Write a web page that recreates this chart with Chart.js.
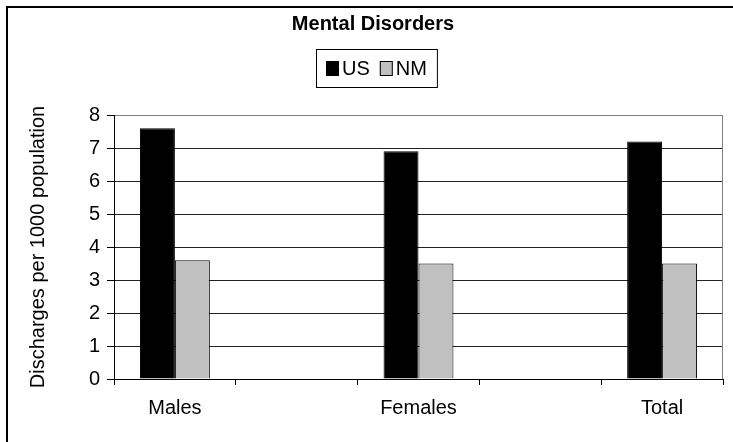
<!DOCTYPE html>
<html>
<head>
<meta charset="utf-8">
<script src="https://cdn.jsdelivr.net/npm/chart.js@4/dist/chart.umd.min.js"></script>
<style>
  body { margin: 0; background: #fff; }
  canvas { display: block; }
</style>
</head>
<body>
<canvas id="chart" width="733" height="442"></canvas>
<script>
// data (blank categories are the gaps between groups)
const categories = ['Males', '', 'Females', '', 'Total'];
const usValues = [7.6, null, 6.9, null, 7.2];
const nmValues = [3.6, null, 3.5, null, 3.5];
const yTicks = [0, 1, 2, 3, 4, 5, 6, 7, 8];

const FONT = 'Arial, "Liberation Sans", sans-serif';

// frame, boxed legend, grey plot border
const decor = {
  id: 'decor',
  beforeDraw(chart) {
    const c = chart.ctx;
    c.save();
    c.fillStyle = '#fff';
    c.fillRect(0, 0, chart.width, chart.height);
    c.strokeStyle = '#000';
    c.lineWidth = 2;
    c.beginPath();
    c.moveTo(7, chart.height);
    c.lineTo(7, 7);
    c.lineTo(chart.width, 7);
    c.stroke();
    c.restore();
  },
  afterDraw(chart) {
    const c = chart.ctx;
    const a = chart.chartArea;
    c.save();
    // right edge of plot area
    c.strokeStyle = '#808080';
    c.lineWidth = 1;
    c.beginPath();
    c.moveTo(a.right - 0.5, a.top);
    c.lineTo(a.right - 0.5, a.bottom);
    c.stroke();

    // legend
    c.font = '20px ' + FONT;
    c.textBaseline = 'middle';
    const sets = chart.data.datasets;
    const items = sets.map(d => ({ d, w: c.measureText(d.label).width }));
    const sq = 13, gap = 3, sep = 10, pad = 10;
    let total = pad * 2;
    items.forEach((it, i) => { total += sq + gap + it.w + (i ? sep : 0); });
    const boxTop = 49, boxH = 38;
    const boxLeft = Math.round(chart.width / 2 + 10 - total / 2);
    const cy = boxTop + boxH / 2;
    c.strokeStyle = '#000';
    c.strokeRect(boxLeft + 0.5, boxTop + 0.5, total, boxH);
    let x = boxLeft + pad;
    items.forEach((it, i) => {
      if (i) x += sep;
      c.fillStyle = it.d.backgroundColor;
      c.fillRect(x, cy - 7, sq, 15);
      c.strokeStyle = '#000';
      c.strokeRect(x + 0.5, cy - 6.5, sq - 1, 14);
      x += sq + gap;
      c.fillStyle = '#000';
      c.fillText(it.d.label, x, cy + 1);
      x += it.w;
    });
    c.restore();
  }
};

new Chart(document.getElementById('chart'), {
  type: 'bar',
  data: {
    labels: categories,
    datasets: [
      { label: 'US', data: usValues, backgroundColor: '#000000', borderColor: '#000000', borderWidth: 1 },
      { label: 'NM', data: nmValues, backgroundColor: '#C0C0C0', borderColor: '#000000', borderWidth: 1 }
    ]
  },
  options: {
    responsive: false,
    devicePixelRatio: 1,
    animation: false,
    categoryPercentage: 0.574,
    barPercentage: 1,
    layout: { padding: { left: 23, right: 10, top: 0, bottom: 11 } },
    plugins: {
      legend: { display: false },
      tooltip: { enabled: false },
      title: {
        display: true,
        text: 'Mental Disorders',
        color: '#000',
        font: { family: FONT, size: 20, weight: 'bold' },
        padding: { top: 12, bottom: 79 }
      }
    },
    scales: {
      x: {
        grid: { offset: true, drawOnChartArea: false, drawTicks: true, tickLength: 6, color: '#000' },
        border: { color: '#000', width: 1 },
        ticks: { color: '#000', font: { family: FONT, size: 20 }, padding: 11, maxRotation: 0, autoSkip: false }
      },
      y: {
        min: 0,
        max: 8,
        afterBuildTicks: s => { s.ticks = yTicks.map(v => ({ value: v })); },
        afterFit: s => { s.width = 91; },
        grid: {
          color: ctx => (ctx.tick && ctx.tick.value === 8 ? '#808080' : '#222'),
          tickColor: '#000',
          tickLength: 7
        },
        border: { color: '#000', width: 1 },
        ticks: { color: '#000', font: { family: FONT, size: 20 }, padding: 7 },
        title: {
          display: true,
          text: 'Discharges per 1000 population',
          color: '#000',
          font: { family: FONT, size: 20 },
          padding: { top: 3, bottom: 0 }
        }
      }
    }
  },
  plugins: [decor]
});
</script>
</body>
</html>
